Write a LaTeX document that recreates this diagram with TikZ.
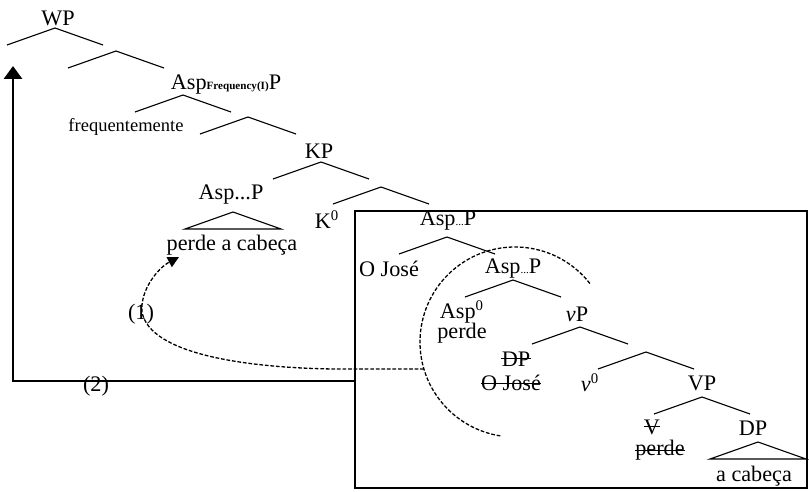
\documentclass[tikz,border=0pt]{standalone}
\usepackage{fontspec}
\setmainfont{Liberation Serif}
\usetikzlibrary{arrows.meta,calc}
\newcommand{\tinysub}[1]{{\fontsize{6}{7}\selectfont #1}}
\begin{document}
\begin{tikzpicture}[x=0.019cm, y=-0.019cm, font=\fontsize{12}{14}\selectfont,
          lbl/.style={inner sep=0pt},
          wedge/.style={line width=0.6pt},
          strike/.style={line width=0.55pt},
          dashy/.style={line width=0.7pt, dash pattern=on 2pt off 1pt},
          movearr/.style={line width=1.6pt, -{Triangle[width=9.7pt,length=7pt]}},
          hopbox/.style={draw, line width=1.4pt, inner sep=0pt, minimum width=8.588cm, minimum height=5.263cm}]
        \useasboundingbox (0,0) rectangle (809,491);
        \node[hopbox] (box) at (581,349.5) {};
        \foreach \a/\px/\py in {wp/55/28, bar1/116/51, freq/183/95, bar2/248/117, kp/321/162, bar3/381/187,
                                aspa/447/237, aspb/513/280, vp/580/327, bar4/646/352, vpp/702/397} {
          \coordinate (w-\a) at (\px,\py);
          \draw[wedge] (w-\a) ++(-48,17) -- (w-\a) -- ++(48,17);
        }
        \foreach \a/\px/\py in {remnant/233/212, dp/758/442} {
          \coordinate (t-\a) at (\px,\py);
          \draw[wedge] (t-\a) ++(-48,17) -- (t-\a) -- ++(48,17) -- cycle;
        }
        \node[lbl] (wp) at (58,18) {WP};
        \node[lbl] (aspfreq) at (226,85) {Asp{\fontsize{6}{7}\selectfont\bfseries Frequency(I)}P};
        \node[lbl, font=\fontsize{10}{12}\selectfont] (adv) at (126,127) {frequentemente};
        \node[lbl] (kp) at (319,151) {KP};
        \node[lbl] (aspdots) at (231,195) {Asp...P};
        \node[lbl] (remnant) at (232,245) {perde a cabeça};
        \node[lbl] (k0) at (327,220) {K\textsuperscript{0}};
        \node[lbl] (aspa) at (448,221) {Asp\tinysub{...}P};
        \node[lbl] (subj) at (389,269) {O José};
        \node[lbl] (aspb) at (513,269) {Asp\tinysub{...}P};
        \node[lbl] (asp0) at (462,312) {Asp\textsuperscript{0}};
        \node[lbl] (aspverb) at (462,333) {perde};
        \node[lbl] (vp) at (577,314) {\textit{v}P};
        \node[lbl] (dpcopy) at (516,359) {DP};
        \node[lbl] (subjcopy) at (511,383) {O José};
        \node[lbl] (v0) at (590,383) {\textit{v}\textsuperscript{0}};
        \node[lbl] (vpp) at (702,383) {VP};
        \node[lbl] (vcopy) at (652,427) {V};
        \node[lbl] (verbcopy) at (660,450) {perde};
        \node[lbl] (dp) at (753,428) {DP};
        \node[lbl] (obj) at (754,476) {a cabeça};
        \foreach \n/\h in {dpcopy/4pt, subjcopy/4pt, vcopy/4.2pt, verbcopy/2.8pt}
          \draw[strike] ([yshift=\h]\n.base west) -- ([yshift=\h]\n.base east);
        \coordinate (arcc) at (515,342);
        \draw[dashy] ($(arcc)+(38:1.805cm)$) arc[start angle=38, end angle=262, radius=1.805cm];
        \coordinate (arcl) at ($(arcc)+(196.5:1.805cm)$);
        \coordinate (land) at (179,257);
        \draw[dashy, -{Triangle[width=6pt,length=6pt]}] (arcl) -- (335,369)
          .. controls (250,368) and (150,355) .. (142,312)
          .. controls (140,290) and (158,268) .. (land);
        \node[lbl] (m1) at (141,314) {(1)};
        \coordinate (wptop) at (13,66);
        \coordinate (turn) at (13,381);
        \draw[movearr] (box.west |- turn) -- (turn) -- (wptop);
        \node[lbl] (m2) at (96,386) {(2)};
      \end{tikzpicture}
\end{document}
